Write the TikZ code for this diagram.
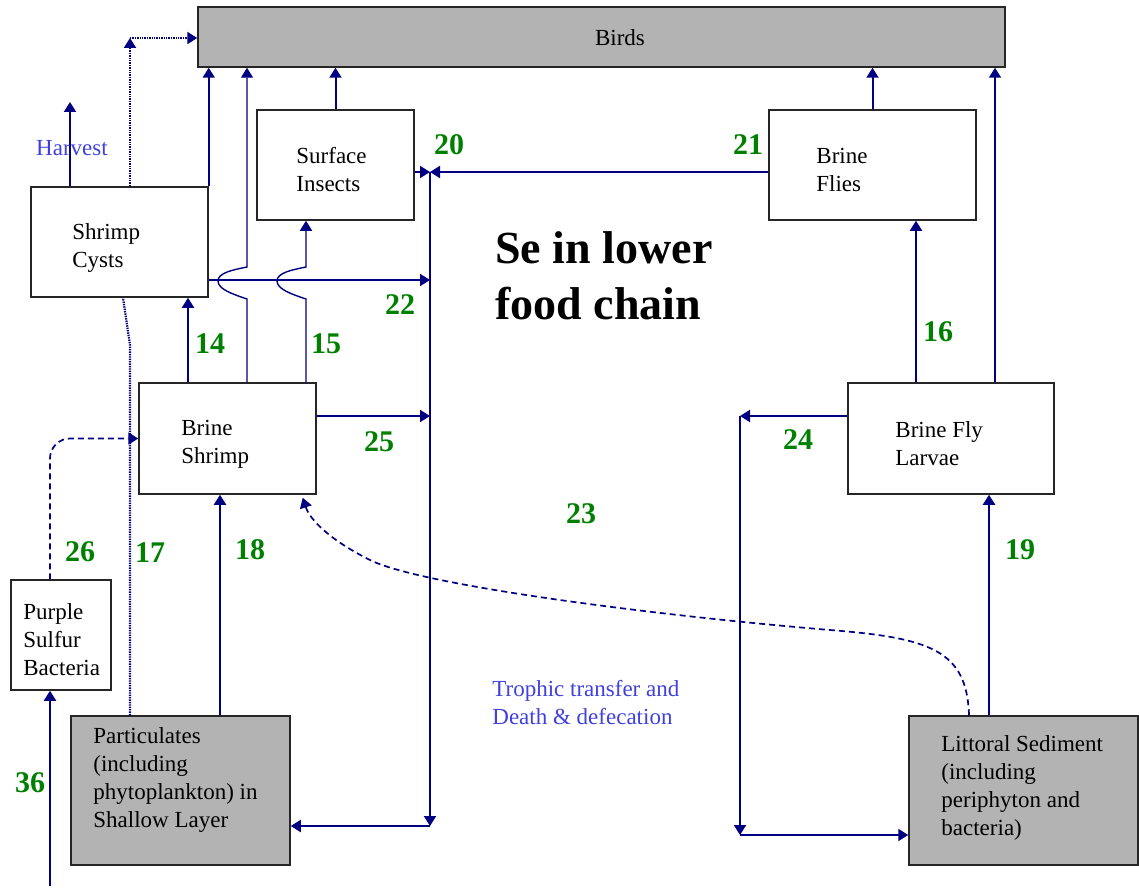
\documentclass[tikz,border=0pt]{standalone}
\usepackage{fontspec}
\setmainfont{Liberation Serif}
\usetikzlibrary{arrows.meta,fit,calc}
\definecolor{flowblue}{RGB}{0,0,128}
\definecolor{numgreen}{RGB}{0,128,0}
\definecolor{noteblue}{RGB}{64,64,224}
\definecolor{poolgray}{RGB}{179,179,179}
\begin{document}
\begin{tikzpicture}[x=0.5pt, y=-0.5pt,
    box/.style={draw=black!85, line width=0.75pt, inner sep=0pt},
    pool/.style={box, fill=poolgray},
    txt/.style={inner sep=0pt, align=left, anchor=west, font=\fontsize{11.5}{14}\selectfont},
    num/.style={text=numgreen, inner sep=0pt, font=\fontsize{15}{18}\selectfont\bfseries},
    flow/.style={flowblue, line width=1pt, -{Triangle[length=5pt,width=6pt]}},
    thinflow/.style={flow, line width=0.7pt},
    dotflow/.style={flow, line width=1.1pt, dash pattern=on 0.7pt off 0.5pt},
    dashflow/.style={flow, line width=0.85pt, dash pattern=on 3pt off 2pt},
  ]
  \useasboundingbox (0,0) rectangle (1139,888);
  % compartments
  \node[pool, fit={(198,7) (1005,67)}] (birds) {};
  \node[box, fit={(31,187) (208,297)}] (cysts) {};
  \node[box, fit={(257,110) (414,220)}] (insects) {};
  \node[box, fit={(769,110) (976,220)}] (flies) {};
  \node[box, fit={(139,383) (316,494)}] (shrimp) {};
  \node[box, fit={(848,383) (1054,494)}] (larvae) {};
  \node[box, fit={(11,580) (111,690)}] (bacteria) {};
  \node[pool, fit={(71,716) (290,865)}] (partic) {};
  \node[pool, fit={(909,716) (1138,865)}] (sediment) {};
  % compartment texts
  \node[txt, anchor=center] (birdstxt) at (620,38) {Birds};
  \node[txt] (cyststxt) at (72,248) {Shrimp\\Cysts};
  \node[txt] (insectstxt) at (296,170) {Surface\\Insects};
  \node[txt] (fliestxt) at (816,170) {Brine\\Flies};
  \node[txt] (shrimptxt) at (181,444) {Brine\\Shrimp};
  \node[txt] (larvaetxt) at (895,444) {Brine Fly\\Larvae};
  \node[txt] (bacteriatxt) at (23,640) {Purple\\Sulfur\\Bacteria};
  \node[txt] (partictxt) at (93,780) {Particulates\\(including\\phytoplankton) in\\Shallow Layer};
  \node[txt] (sedimenttxt) at (941,788) {Littoral Sediment\\(including\\periphyton and\\bacteria)};
  \node[txt, anchor=center, text=noteblue] (harvest) at (72,148) {Harvest};
  \node[txt, text=noteblue] (trophic) at (492,703) {Trophic transfer and\\Death \& defecation};
  \node[txt, font=\fontsize{23}{28}\selectfont\bfseries] (title) at (495,276) {Se in lower\\food chain};
  % lanes and junctions
  \coordinate (harv) at (70,102);
  \coordinate (dotc) at (130,38);
  \coordinate (k17) at (130,345);
  \coordinate (c14) at (188,0);
  \coordinate (c18) at (220,0);
  \coordinate (c50) at (50,886);
  \coordinate (hopA) at (247,0);
  \coordinate (hopB) at (306,0);
  \coordinate (t20) at (430,172);
  \coordinate (j22) at (430,280);
  \coordinate (j25) at (430,416);
  \coordinate (t0) at (430,826);
  \coordinate (c16) at (916,0);
  \coordinate (c19) at (989,0);
  \coordinate (c995) at (995,0);
  \coordinate (k24) at (740,416);
  \coordinate (k24b) at (740,835);
  \coordinate (cdash) at (969,0);
  % shrimp cysts
  \draw[flow] (cysts.north -| harv) -- (harv);
  \draw[dotflow] (cysts.north -| dotc) -- (dotc);
  \draw[dotflow] (dotc) -- (birds.west |- dotc);
  \draw[flow] (cysts.north east) -- (birds.south -| cysts.north east);
  \draw[flow] (cysts.east |- j22) -- (j22);
  \draw[dotflow, -] (partic.north -| k17) -- (k17) -- ($(cysts.south -| k17)+(-7,0)$);
  % brine shrimp
  \draw[flow] (shrimp.north -| c14) -- (cysts.south -| c14);
  \draw[thinflow] (shrimp.north -| hopA) -- (247,299) .. controls (232,294) and (218,289) .. (218,281)
    .. controls (218,273) and (232,270) .. (247,267) -- (birds.south -| hopA);
  \draw[thinflow] (shrimp.north -| hopB) -- (306,299) .. controls (291,294) and (277,289) .. (277,281)
    .. controls (277,273) and (291,270) .. (306,267) -- (insects.south -| hopB);
  \draw[flow] (shrimp.east |- j25) -- (j25);
  \draw[flow] (insects.north) -- (birds.south -| insects.north);
  % trunk to particulates
  \draw[flow] (insects.east |- t20) -- (t20);
  \draw[flow] (flies.west |- t20) -- (t20);
  \draw[flow] (t20) -- (t0);
  \draw[flow] (t0) -- (partic.east |- t0);
  % brine flies side
  \draw[flow] (flies.north) -- (birds.south -| flies.north);
  \draw[flow] (larvae.north -| c995) -- (birds.south -| c995);
  \draw[flow] (larvae.north -| c16) -- (flies.south -| c16);
  \draw[flow] (larvae.west |- k24) -- (k24);
  \draw[flow] (k24) -- (k24b);
  \draw[flow] (k24b) -- (sediment.west |- k24b);
  \draw[flow] (sediment.north -| c19) -- (larvae.south -| c19);
  % lower left
  \draw[flow] (partic.north -| c18) -- (shrimp.south -| c18);
  \draw[flow] (c50) -- (bacteria.south -| c50);
  \draw[dashflow, rounded corners=10pt] (bacteria.north -| c50) |- (shrimp.west);
  \draw[dashflow] (sediment.north -| cdash) .. controls (967,650) and (930,638) .. (830,630)
    .. controls (650,615) and (420,585) .. (370,560)
    .. controls (330,540) and (310,520) .. ($(shrimp.south east)+(-14,3)$);
  % flow numbers
  \node[num] (n14) at (210,344) {14};
  \node[num] (n15) at (326,344) {15};
  \node[num] (n16) at (938,332) {16};
  \node[num] (n17) at (150,553) {17};
  \node[num] (n18) at (250,550) {18};
  \node[num] (n19) at (1020,550) {19};
  \node[num] (n20) at (449,145) {20};
  \node[num] (n21) at (748,145) {21};
  \node[num] (n22) at (400,305) {22};
  \node[num] (n23) at (581,514) {23};
  \node[num] (n24) at (798,440) {24};
  \node[num] (n25) at (379,442) {25};
  \node[num] (n26) at (80,552) {26};
  \node[num] (n36) at (30,783) {36};
\end{tikzpicture}
\end{document}
